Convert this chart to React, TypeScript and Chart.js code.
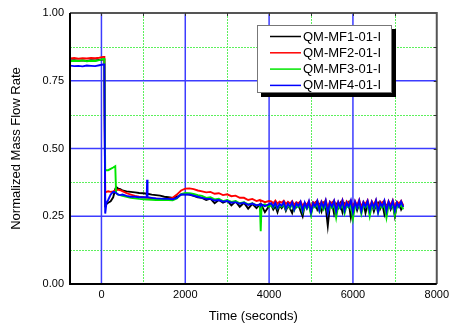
import { useEffect, useRef } from "react";
import { Chart, registerables } from "chart.js";
Chart.register(...registerables);

const seriesLabels = ["QM-MF1-01-I", "QM-MF2-01-I", "QM-MF3-01-I", "QM-MF4-01-I"];
const seriesColors = ["#000000", "#ff0000", "#00e600", "#0000ff"];

const times = [
  -750, -650, -550, -450, -350, -250, -150, -50, 40, 70,
  90, 120, 160, 220, 280, 330, 350, 400, 450, 500,
  600, 700, 800, 900, 1000, 1080, 1090, 1100, 1200, 1300,
  1400, 1500, 1600, 1700, 1800, 1900, 2000, 2100, 2200, 2300,
  2400, 2500, 2600, 2700, 2800, 2900, 3000, 3100, 3200, 3300,
  3400, 3500, 3600, 3700, 3780, 3800, 3820, 3900, 4000,
  4050, 4100, 4150, 4200, 4250, 4300, 4350, 4400,
  4450, 4500, 4550, 4600, 4650, 4700, 4750, 4800,
  4850, 4900, 4950, 5000, 5050, 5100, 5150, 5200,
  5250, 5300, 5350, 5400, 5450, 5500, 5550, 5600,
  5650, 5700, 5750, 5800, 5850, 5900, 5950, 6000,
  6050, 6100, 6150, 6200, 6250, 6300, 6350, 6400,
  6450, 6500, 6550, 6600, 6650, 6700, 6750, 6800,
  6850, 6900, 6950, 7000, 7050, 7100, 7150, 7200,
];

const mf1 = [
  0.825, 0.826, 0.824, 0.825, 0.823, 0.826, 0.825, 0.827, 0.828, 0.828,
  0.29, 0.295, 0.30, 0.305, 0.32, 0.35, 0.358, 0.352, 0.35, 0.345,
  0.342, 0.34, 0.338, 0.336, 0.335, 0.333, 0.332, 0.333, 0.33, 0.328,
  0.326, 0.322, 0.32, 0.318, 0.322, 0.33, 0.332, 0.33, 0.325, 0.32,
  0.318, 0.31, 0.315, 0.298, 0.31, 0.30, 0.308, 0.29, 0.305, 0.285,
  0.30, 0.278, 0.296, 0.28, 0.294, 0.27, 0.29, 0.265, 0.288,
  0.292, 0.275, 0.288, 0.265, 0.29, 0.28, 0.293, 0.27,
  0.289, 0.278, 0.262, 0.29, 0.283, 0.295, 0.27, 0.25,
  0.292, 0.28, 0.296, 0.262, 0.29, 0.30, 0.275, 0.292,
  0.268, 0.298, 0.285, 0.215, 0.29, 0.30, 0.26, 0.295,
  0.28, 0.298, 0.265, 0.296, 0.285, 0.30, 0.245, 0.29,
  0.298, 0.272, 0.295, 0.283, 0.30, 0.262, 0.293, 0.28,
  0.298, 0.268, 0.292, 0.30, 0.278, 0.296, 0.258, 0.29,
  0.30, 0.275, 0.295, 0.25, 0.29, 0.298, 0.275, 0.29,
];

const mf2 = [
  0.832, 0.834, 0.831, 0.833, 0.832, 0.834, 0.833, 0.835, 0.838, 0.838,
  0.338, 0.34, 0.342, 0.34, 0.342, 0.345, 0.347, 0.348, 0.346, 0.343,
  0.335, 0.33, 0.325, 0.322, 0.32, 0.318, 0.318, 0.318, 0.316, 0.315,
  0.314, 0.313, 0.315, 0.318, 0.33, 0.345, 0.352, 0.353, 0.35, 0.345,
  0.342, 0.338, 0.34, 0.333, 0.335, 0.328, 0.331, 0.324, 0.326, 0.318,
  0.318, 0.31, 0.314, 0.306, 0.31, 0.305, 0.308, 0.302, 0.306,
  0.305, 0.298, 0.308, 0.296, 0.304, 0.30, 0.307, 0.295,
  0.303, 0.297, 0.306, 0.292, 0.302, 0.298, 0.305, 0.288,
  0.30, 0.292, 0.306, 0.28, 0.302, 0.296, 0.308, 0.285,
  0.305, 0.293, 0.31, 0.282, 0.304, 0.295, 0.308, 0.28,
  0.303, 0.29, 0.31, 0.285, 0.305, 0.296, 0.308, 0.278,
  0.306, 0.29, 0.31, 0.284, 0.303, 0.295, 0.309, 0.28,
  0.305, 0.292, 0.31, 0.283, 0.304, 0.296, 0.308, 0.278,
  0.306, 0.29, 0.309, 0.285, 0.304, 0.296, 0.307, 0.29,
];

const mf3 = [
  0.822, 0.824, 0.823, 0.825, 0.822, 0.824, 0.823, 0.826, 0.83, 0.83,
  0.418, 0.42, 0.42, 0.425, 0.43, 0.435, 0.335, 0.33, 0.328, 0.325,
  0.322, 0.318, 0.316, 0.314, 0.313, 0.312, 0.312, 0.312, 0.311, 0.31,
  0.31, 0.31, 0.31, 0.309, 0.316, 0.332, 0.336, 0.335, 0.332, 0.328,
  0.325, 0.318, 0.32, 0.312, 0.315, 0.306, 0.31, 0.303, 0.306, 0.298,
  0.302, 0.294, 0.298, 0.29, 0.292, 0.195, 0.29, 0.294, 0.285,
  0.292, 0.282, 0.295, 0.278, 0.29, 0.285, 0.293, 0.275,
  0.29, 0.28, 0.294, 0.272, 0.289, 0.283, 0.292, 0.265,
  0.288, 0.278, 0.292, 0.255, 0.29, 0.282, 0.294, 0.268,
  0.29, 0.275, 0.295, 0.262, 0.288, 0.28, 0.293, 0.245,
  0.29, 0.278, 0.294, 0.26, 0.289, 0.282, 0.292, 0.24,
  0.288, 0.28, 0.294, 0.258, 0.29, 0.283, 0.293, 0.25,
  0.29, 0.278, 0.294, 0.262, 0.288, 0.282, 0.293, 0.245,
  0.29, 0.28, 0.293, 0.255, 0.289, 0.283, 0.292, 0.275,
];

const mf4 = [
  0.806, 0.804, 0.805, 0.803, 0.806, 0.805, 0.804, 0.807, 0.81, 0.81,
  0.26, 0.30, 0.31, 0.33, 0.34, 0.338, 0.336, 0.33, 0.328, 0.33,
  0.325, 0.322, 0.322, 0.32, 0.32, 0.32, 0.385, 0.32, 0.318, 0.316,
  0.315, 0.314, 0.314, 0.313, 0.318, 0.33, 0.33, 0.33, 0.326, 0.322,
  0.318, 0.314, 0.314, 0.308, 0.31, 0.304, 0.306, 0.30, 0.302, 0.296,
  0.30, 0.292, 0.297, 0.29, 0.294, 0.288, 0.293, 0.287, 0.295,
  0.298, 0.285, 0.30, 0.28, 0.296, 0.288, 0.302, 0.278,
  0.297, 0.285, 0.302, 0.275, 0.298, 0.287, 0.303, 0.27,
  0.30, 0.28, 0.305, 0.265, 0.298, 0.286, 0.306, 0.272,
  0.302, 0.283, 0.308, 0.262, 0.30, 0.285, 0.306, 0.268,
  0.302, 0.282, 0.307, 0.27, 0.30, 0.286, 0.308, 0.265,
  0.303, 0.28, 0.307, 0.268, 0.301, 0.285, 0.306, 0.27,
  0.302, 0.282, 0.308, 0.265, 0.30, 0.286, 0.307, 0.268,
  0.303, 0.282, 0.306, 0.27, 0.30, 0.285, 0.304, 0.285,
];

const seriesValues = [mf1, mf2, mf3, mf4];

const xTickValues = [0, 2000, 4000, 6000, 8000];
const yTickValues = [0, 0.25, 0.5, 0.75, 1.0];
const xMajorGrid = [0, 2000, 4000, 6000];
const xMinorGrid = [1000, 3000, 5000, 7000];
const yMajorGrid = [0.25, 0.5, 0.75];
const yMinorGrid = [0.125, 0.375, 0.625, 0.875];

const FONT = "'Liberation Sans', Arial, sans-serif";

const decorPlugin = {
  id: "decor",
  beforeDatasetsDraw(chart: any) {
    const { ctx, chartArea: a, scales } = chart;
    const x = scales.x;
    const y = scales.y;
    ctx.save();
    ctx.strokeStyle = "#5cf05c";
    ctx.lineWidth = 1;
    ctx.setLineDash([2, 1]);
    for (const v of xMinorGrid) {
      const px = Math.round(x.getPixelForValue(v)) + 0.5;
      ctx.beginPath();
      ctx.moveTo(px, a.top);
      ctx.lineTo(px, a.bottom);
      ctx.stroke();
    }
    for (const v of yMinorGrid) {
      const py = Math.round(y.getPixelForValue(v)) + 0.5;
      ctx.beginPath();
      ctx.moveTo(a.left, py);
      ctx.lineTo(a.right, py);
      ctx.stroke();
    }
    ctx.setLineDash([]);
    ctx.strokeStyle = "#3c3cff";
    ctx.lineWidth = 1.5;
    for (const v of xMajorGrid) {
      const px = x.getPixelForValue(v);
      ctx.beginPath();
      ctx.moveTo(px, a.top);
      ctx.lineTo(px, a.bottom);
      ctx.stroke();
    }
    for (const v of yMajorGrid) {
      const py = y.getPixelForValue(v);
      ctx.beginPath();
      ctx.moveTo(a.left, py);
      ctx.lineTo(a.right, py);
      ctx.stroke();
    }
    ctx.restore();
  },
  afterDatasetsDraw(chart: any) {
    const { ctx, chartArea: a, scales } = chart;
    const x = scales.x;
    const y = scales.y;
    ctx.save();
    ctx.lineWidth = 2;
    ctx.strokeStyle = "#555555";
    ctx.beginPath();
    ctx.moveTo(a.left, a.top);
    ctx.lineTo(a.right, a.top);
    ctx.lineTo(a.right, a.bottom);
    ctx.stroke();
    ctx.strokeStyle = "#000000";
    ctx.beginPath();
    ctx.moveTo(a.left, a.top);
    ctx.lineTo(a.left, a.bottom);
    ctx.lineTo(a.right, a.bottom);
    ctx.stroke();
    ctx.lineWidth = 1;
    ctx.strokeStyle = "#333333";
    for (const v of [...xMajorGrid, ...xMinorGrid]) {
      const px = Math.round(x.getPixelForValue(v)) + 0.5;
      ctx.beginPath();
      ctx.moveTo(px, a.top);
      ctx.lineTo(px, a.top + 3);
      ctx.stroke();
    }
    for (const v of [...yMajorGrid, ...yMinorGrid]) {
      const py = Math.round(y.getPixelForValue(v)) + 0.5;
      ctx.beginPath();
      ctx.moveTo(a.right, py);
      ctx.lineTo(a.right - 3, py);
      ctx.stroke();
    }
    const lx = a.left + 187;
    const ly = a.top + 12;
    const lw = 135;
    const lh = 68;
    ctx.fillStyle = "#000000";
    ctx.fillRect(lx + 4, ly + 4, lw, lh);
    ctx.fillStyle = "#ffffff";
    ctx.fillRect(lx, ly, lw, lh);
    ctx.strokeStyle = "#777777";
    ctx.lineWidth = 1;
    ctx.strokeRect(lx + 0.5, ly + 0.5, lw - 1, lh - 1);
    ctx.font = "13px " + FONT;
    ctx.textBaseline = "middle";
    ctx.textAlign = "left";
    seriesLabels.forEach((lab, i) => {
      const cy = ly + 11.5 + i * 16.3;
      ctx.strokeStyle = seriesColors[i];
      ctx.lineWidth = 1.5;
      ctx.beginPath();
      ctx.moveTo(lx + 13, cy);
      ctx.lineTo(lx + 44, cy);
      ctx.stroke();
      ctx.fillStyle = "#000000";
      ctx.fillText(lab, lx + 46, cy + 0.5);
    });
    ctx.restore();
  },
};

export default function App() {
  const ref = useRef<HTMLCanvasElement | null>(null);
  useEffect(() => {
    if (!ref.current) return;
    const datasets = seriesValues.map((vals, i) => ({
      label: seriesLabels[i],
      data: times.map((t, k) => ({ x: t, y: vals[k] })),
      borderColor: seriesColors[i],
      backgroundColor: seriesColors[i],
      borderWidth: 1.9,
      pointRadius: 0,
      tension: 0,
      fill: false,
      order: 4 - i,
    }));
    const chart = new Chart(ref.current, {
      type: "line",
      data: { datasets },
      options: {
        animation: false,
        responsive: false,
        devicePixelRatio: 1,
        layout: { padding: { left: 0, right: 16, top: 13, bottom: 0 } },
        plugins: { legend: { display: false }, tooltip: { enabled: false } },
        scales: {
          x: {
            type: "linear",
            min: -750,
            max: 8000,
            grid: { display: false, drawTicks: false },
            border: { display: false },
            afterBuildTicks: (s: any) => {
              s.ticks = xTickValues.map((v) => ({ value: v }));
            },
            afterFit: (s: any) => {
              s.height = 43;
            },
            ticks: {
              padding: 4,
              color: "#000000",
              font: { family: FONT, size: 11 },
              maxRotation: 0,
              callback: (v: any) => String(v),
            },
            title: {
              display: true,
              text: "Time (seconds)",
              color: "#000000",
              font: { family: FONT, size: 13 },
              padding: { top: 4, bottom: 3 },
            },
          },
          y: {
            type: "linear",
            min: 0,
            max: 1,
            grid: { display: false, drawTicks: false },
            border: { display: false },
            afterBuildTicks: (s: any) => {
              s.ticks = yTickValues.map((v) => ({ value: v }));
            },
            afterFit: (s: any) => {
              s.width = 70;
            },
            ticks: {
              padding: 6,
              color: "#000000",
              font: { family: FONT, size: 11 },
              callback: (v: any) => Number(v).toFixed(2),
            },
            title: {
              display: true,
              text: "Normalized Mass Flow Rate",
              color: "#000000",
              font: { family: FONT, size: 13 },
              padding: { top: 9, bottom: 4 },
            },
          },
        },
      },
      plugins: [decorPlugin],
    } as any);
    return () => chart.destroy();
  }, []);
  return (
    <div style={{ position: "fixed", left: 0, top: 0, width: 453, height: 327, background: "#ffffff" }}>
      <canvas ref={ref} width={453} height={327} style={{ display: "block", width: 453, height: 327 }} />
    </div>
  );
}
